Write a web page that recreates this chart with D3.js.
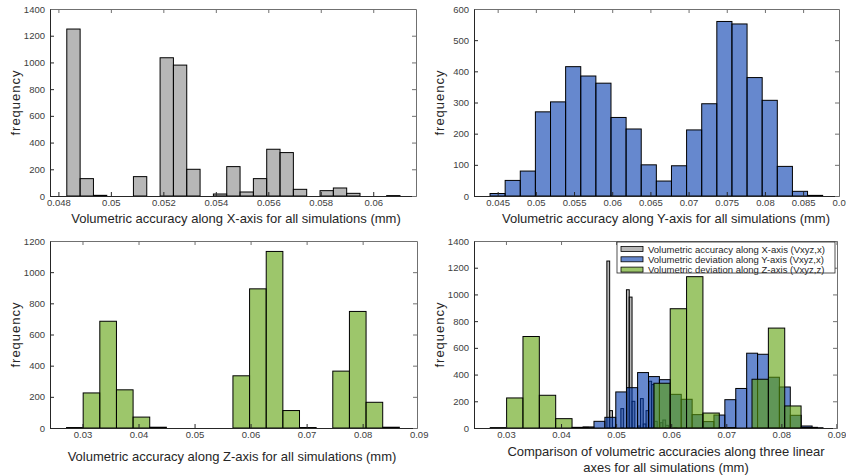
<!DOCTYPE html>
<html>
<head>
<meta charset="utf-8">
<script src="https://cdn.jsdelivr.net/npm/d3@7"></script>
<style>
  body { margin: 0; background: #fff; }
  svg { font-family: "Liberation Sans", Arial, sans-serif; }
</style>
</head>
<body>
<div id="chart"></div>
<script>
// histogram counts (5000 simulations each)
const xCounts = [1250, 130, 5, 0, 0, 145, 0, 1035, 980, 200, 0, 15, 220, 30, 130, 350, 325, 50, 0, 40, 60, 20, 0, 0, 3];
const yCounts = [8, 50, 80, 270, 302, 415, 385, 362, 252, 215, 100, 48, 97, 212, 296, 560, 552, 380, 307, 95, 15, 2];
const zCounts = [3, 225, 685, 245, 70, 5, 0, 0, 0, 0, 335, 893, 1133, 112, 3, 0, 365, 748, 165, 5];

// first bin edge and bin width of each histogram (mm)
const xBinStart = 0.04832, xBinWidth = 0.000508;
const yBinStart = 0.0440, yBinWidth = 0.00198;
const zBinStart = 0.02715, zBinWidth = 0.00297;

// tick labels
const xTicksX = [0.048, 0.05, 0.052, 0.054, 0.056, 0.058, 0.06];
const xTicksY = [0.045, 0.05, 0.055, 0.06, 0.065, 0.07, 0.075, 0.08, 0.085, 0.09];
const xTicksZ = [0.03, 0.04, 0.05, 0.06, 0.07, 0.08, 0.09];
const yTicks1400 = [0, 200, 400, 600, 800, 1000, 1200, 1400];
const yTicks600 = [0, 100, 200, 300, 400, 500, 600];
const yTicks1200 = [0, 200, 400, 600, 800, 1000, 1200];

const legendLabels = [
    'Volumetric accuracy along X-axis (Vxyz,x)',
    'Volumetric deviation along Y-axis (Vxyz,x)',
    'Volumetric deviation along Z-axis (Vxyz,z)'
];

const GRAY = '#878787', BLUE = '#0039ad', GREEN = '#5ca008';
const AXIS = '#262626';

const svg = d3.select('#chart').append('svg')
    .attr('width', 846)
    .attr('height', 476);

const seriesX = {counts: xCounts, start: xBinStart, width: xBinWidth, color: GRAY};
const seriesY = {counts: yCounts, start: yBinStart, width: yBinWidth, color: BLUE};
const seriesZ = {counts: zCounts, start: zBinStart, width: zBinWidth, color: GREEN};

/**
 * Draw one histogram panel (bars, boxed axes, labels)
 */
function drawPanel(cfg) {
    const g = svg.append('g');
    const x = d3.scaleLinear().domain(cfg.xDomain).range([cfg.left, cfg.right]);
    const y = d3.scaleLinear().domain(cfg.yDomain).range([cfg.bottom, cfg.top]);

    cfg.series.forEach(s => {
        g.append('g').selectAll('rect')
            .data(s.counts)
            .join('rect')
            .attr('x', (d, i) => x(s.start + i * s.width))
            .attr('width', (d, i) => x(s.start + (i + 1) * s.width) - x(s.start + i * s.width))
            .attr('y', d => y(d))
            .attr('height', d => y(0) - y(d))
            .attr('fill', s.color)
            .attr('fill-opacity', 0.6)
            .attr('stroke', '#000')
            .attr('stroke-width', 1);
    });

    const fmt = d => String(+d.toFixed(3));

    const bottom = g.append('g')
        .attr('transform', `translate(0,${cfg.bottom})`)
        .call(d3.axisBottom(x).tickValues(cfg.xTicks).tickFormat(fmt)
            .tickSizeInner(-4).tickSizeOuter(0).tickPadding(3));
    const left = g.append('g')
        .attr('transform', `translate(${cfg.left},0)`)
        .call(d3.axisLeft(y).tickValues(cfg.yTicks).tickFormat(d3.format('d'))
            .tickSizeInner(-4).tickSizeOuter(0).tickPadding(5));
    const top = g.append('g')
        .attr('transform', `translate(0,${cfg.top})`)
        .call(d3.axisTop(x).tickValues(cfg.xTicks).tickFormat('')
            .tickSizeInner(-4).tickSizeOuter(0));
    const right = g.append('g')
        .attr('transform', `translate(${cfg.right},0)`)
        .call(d3.axisRight(y).tickValues(cfg.yTicks).tickFormat('')
            .tickSizeInner(-4).tickSizeOuter(0));

    [bottom, left].forEach(a => {
        a.select('.domain').attr('stroke', AXIS);
        a.selectAll('.tick line').attr('stroke', AXIS);
        a.selectAll('.tick text').attr('fill', '#404040')
            .attr('font-size', 9.5).attr('font-family', '"Liberation Sans", Arial, sans-serif');
    });
    [top, right].forEach(a => {
        a.select('.domain').attr('stroke', '#707070');
        a.selectAll('.tick line').attr('stroke', '#707070');
    });
    // hide tick marks that fall outside the box
    bottom.selectAll('.tick').filter(d => x(d) > cfg.right).select('line').remove();
    top.selectAll('.tick').filter(d => x(d) > cfg.right).remove();

    g.append('text')
        .attr('transform', `translate(${cfg.left - 30},${(cfg.top + cfg.bottom) / 2}) rotate(-90)`)
        .attr('text-anchor', 'middle')
        .attr('font-size', 13)
        .attr('letter-spacing', 1)
        .attr('fill', AXIS)
        .text('frequency');

    cfg.xLabel.forEach((line, i) => {
        g.append('text')
            .attr('x', cfg.labelX)
            .attr('y', cfg.labelY + i * 16)
            .attr('text-anchor', 'middle')
            .attr('font-size', 13)
            .attr('fill', AXIS)
            .text(line);
    });

    return {x, y, g};
}

drawPanel({
    left: 50, right: 416, top: 9, bottom: 196,
    xDomain: [0.04768, 0.06163], yDomain: [0, 1400],
    xTicks: xTicksX, yTicks: yTicks1400,
    series: [seriesX],
    xLabel: ['Volumetric accuracy along X-axis for all simulations (mm)'],
    labelX: 236, labelY: 223
});

drawPanel({
    left: 474, right: 839, top: 9, bottom: 196,
    xDomain: [0.0419, 0.0897], yDomain: [0, 600],
    xTicks: xTicksY, yTicks: yTicks600,
    series: [seriesY],
    xLabel: ['Volumetric accuracy along Y-axis for all simulations (mm)'],
    labelX: 666, labelY: 223
});

drawPanel({
    left: 50, right: 417, top: 241, bottom: 428,
    xDomain: [0.0242, 0.0897], yDomain: [0, 1200],
    xTicks: xTicksZ, yTicks: yTicks1200,
    series: [seriesZ],
    xLabel: ['Volumetric accuracy along Z-axis for all simulations (mm)'],
    labelX: 232, labelY: 461
});

const p4 = drawPanel({
    left: 474, right: 837, top: 241, bottom: 428,
    xDomain: [0.0242, 0.0901], yDomain: [0, 1400],
    xTicks: xTicksZ, yTicks: yTicks1400,
    series: [seriesX, seriesY, seriesZ],
    xLabel: ['Comparison of volumetric accuracies along three linear',
             'axes  for all simulations (mm)'],
    labelX: 666, labelY: 456
});

// legend of the comparison panel
const legend = p4.g.append('g').attr('transform', 'translate(617,242)');
legend.append('rect')
    .attr('width', 218).attr('height', 31)
    .attr('fill', '#fff').attr('stroke', AXIS).attr('stroke-width', 0.8);
const colors = [GRAY, BLUE, GREEN];
const rows = legend.selectAll('g.row')
    .data(legendLabels)
    .join('g')
    .attr('class', 'row')
    .attr('transform', (d, i) => `translate(4,${4.5 + i * 10.3})`);
rows.append('rect')
    .attr('width', 22).attr('height', 5)
    .attr('fill', (d, i) => colors[i]).attr('fill-opacity', 0.6)
    .attr('stroke', '#000').attr('stroke-width', 0.8);
rows.append('text')
    .attr('x', 27).attr('y', 6)
    .attr('font-size', 9.5)
    .attr('fill', AXIS)
    .text(d => d);
</script>
</body>
</html>
